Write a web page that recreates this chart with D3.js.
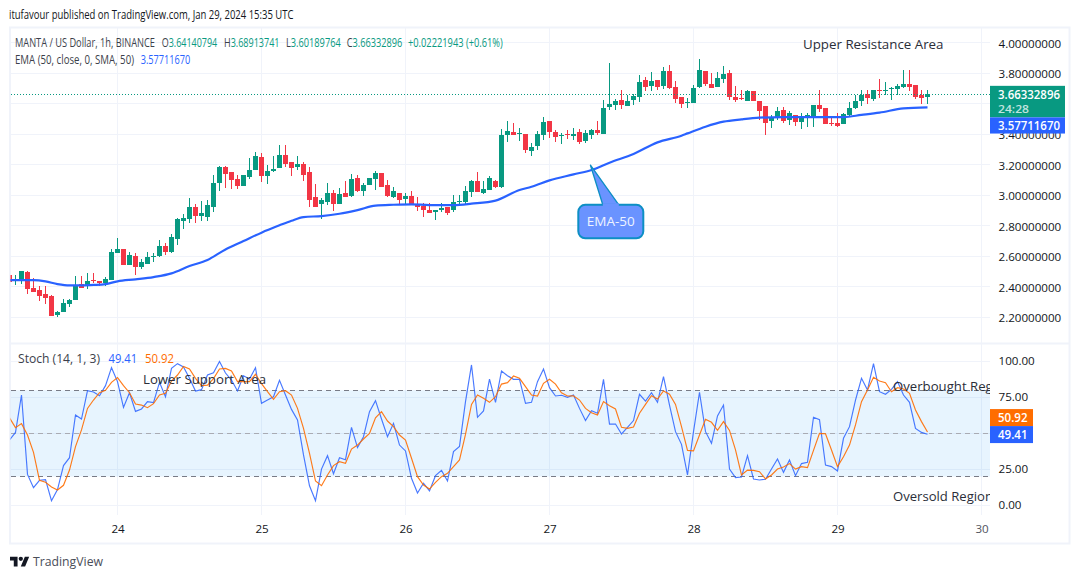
<!DOCTYPE html>
<html><head><meta charset="utf-8">
<script src="https://cdn.jsdelivr.net/npm/d3@7/dist/d3.min.js"></script>
<style>html,body{margin:0;padding:0;background:#fff}svg{display:block}text{font-family:"Open Sans","Noto Sans",sans-serif}</style>
</head><body><svg id="c" width="1080" height="579"></svg>
<script>
const firstHour=-18; // hours relative to Jan 24 00:00
const opens=[2.477,2.438,2.449,2.497,2.392,2.379,2.353,2.340,2.215,2.235,
2.287,2.313,2.418,2.405,2.444,2.438,2.425,2.444,2.622,2.648,
2.543,2.602,2.530,2.549,2.595,2.602,2.667,2.628,2.713,2.831,
2.844,2.923,2.864,2.858,2.923,3.080,3.185,3.153,3.107,3.061,
3.120,3.166,3.251,3.126,3.159,3.179,3.264,3.218,3.185,3.205,
3.153,2.989,2.943,2.956,3.015,2.943,3.015,2.995,3.113,3.028,
3.067,3.107,3.146,3.067,2.989,3.015,2.976,2.995,2.943,2.930,
2.903,2.890,2.903,2.923,2.903,2.956,2.956,3.021,3.094,3.015,
3.035,3.094,3.054,3.395,3.415,3.402,3.402,3.290,3.323,3.395,
3.487,3.415,3.389,3.402,3.389,3.415,3.356,3.395,3.428,3.402,
3.579,3.592,3.625,3.585,3.625,3.644,3.756,3.717,3.756,3.717,
3.815,3.710,3.645,3.605,3.605,3.710,3.815,3.730,3.710,3.763,
3.802,3.645,3.638,3.618,3.684,3.618,3.586,3.487,3.513,3.559,
3.494,3.527,3.481,3.513,3.513,3.592,3.572,3.474,3.474,3.468,
3.527,3.572,3.618,3.664,3.632,3.691,3.684,3.697,3.697,3.710,
3.730,3.723,3.658,3.6414];
const highs=[2.477,2.477,2.503,2.503,2.456,2.405,2.405,2.346,2.241,2.320,
2.320,2.471,2.471,2.490,2.490,2.438,2.464,2.648,2.720,2.648,
2.628,2.622,2.582,2.628,2.622,2.707,2.687,2.746,2.851,2.877,
2.982,2.943,2.962,2.969,3.133,3.192,3.192,3.153,3.133,3.133,
3.244,3.284,3.277,3.198,3.258,3.330,3.330,3.218,3.258,3.218,
3.185,3.074,2.982,3.080,3.035,3.048,3.094,3.139,3.133,3.080,
3.113,3.159,3.146,3.100,3.054,3.015,3.015,3.028,2.989,2.949,
2.949,2.903,2.949,2.923,3.002,3.002,3.061,3.100,3.153,3.094,
3.126,3.100,3.435,3.487,3.474,3.441,3.402,3.343,3.421,3.513,
3.487,3.428,3.408,3.428,3.441,3.435,3.428,3.435,3.487,3.625,
3.867,3.631,3.690,3.657,3.664,3.789,3.776,3.808,3.756,3.841,
3.854,3.750,3.645,3.638,3.723,3.894,3.815,3.802,3.809,3.848,
3.822,3.717,3.691,3.691,3.684,3.618,3.586,3.527,3.579,3.579,
3.553,3.527,3.540,3.540,3.592,3.691,3.572,3.520,3.540,3.540,
3.612,3.658,3.691,3.691,3.691,3.763,3.743,3.710,3.730,3.822,
3.822,3.723,3.691,3.6891];
const lows=[2.431,2.412,2.418,2.353,2.366,2.307,2.287,2.208,2.202,2.235,
2.267,2.313,2.392,2.385,2.425,2.405,2.405,2.444,2.622,2.543,
2.543,2.477,2.517,2.549,2.562,2.595,2.608,2.622,2.674,2.779,
2.818,2.818,2.831,2.831,2.890,3.028,3.048,3.041,3.041,3.061,
3.107,3.166,3.087,3.074,3.153,3.179,3.185,3.126,3.166,3.094,
2.923,2.923,2.844,2.936,2.897,2.943,2.989,2.989,3.021,2.995,
3.067,3.035,3.054,2.989,2.982,2.943,2.936,2.936,2.897,2.858,
2.884,2.838,2.890,2.871,2.890,2.930,2.943,2.989,3.021,3.008,
3.035,3.048,3.048,3.349,3.395,3.356,3.277,3.258,3.297,3.362,
3.376,3.349,3.336,3.369,3.362,3.336,3.343,3.369,3.395,3.402,
3.559,3.559,3.566,3.585,3.592,3.612,3.684,3.684,3.690,3.697,
3.697,3.605,3.572,3.572,3.605,3.704,3.717,3.704,3.710,3.736,
3.625,3.612,3.625,3.618,3.618,3.494,3.395,3.441,3.494,3.474,
3.461,3.454,3.435,3.448,3.448,3.546,3.468,3.454,3.448,3.468,
3.513,3.566,3.586,3.599,3.618,3.638,3.658,3.625,3.658,3.704,
3.684,3.632,3.599,3.6019];
const closes=[2.431,2.453,2.503,2.387,2.366,2.340,2.326,2.208,2.235,2.294,
2.313,2.412,2.392,2.438,2.438,2.425,2.451,2.628,2.648,2.543,
2.608,2.530,2.562,2.595,2.602,2.667,2.628,2.726,2.844,2.851,
2.923,2.864,2.884,2.936,3.080,3.185,3.139,3.100,3.061,3.133,
3.166,3.258,3.126,3.159,3.172,3.264,3.205,3.179,3.205,3.133,
2.969,2.923,2.969,3.015,2.943,3.008,2.989,3.107,3.028,3.067,
3.113,3.146,3.054,2.995,3.028,2.969,2.995,2.936,2.923,2.903,
2.884,2.903,2.917,2.884,2.956,2.962,3.028,3.094,3.021,3.041,
3.113,3.054,3.395,3.421,3.395,3.408,3.297,3.317,3.402,3.480,
3.415,3.382,3.395,3.395,3.402,3.349,3.408,3.428,3.408,3.572,
3.598,3.618,3.592,3.618,3.651,3.743,3.710,3.749,3.710,3.815,
3.703,3.632,3.599,3.612,3.704,3.822,3.730,3.704,3.769,3.795,
3.645,3.625,3.632,3.684,3.618,3.553,3.474,3.507,3.553,3.487,
3.540,3.481,3.520,3.527,3.592,3.566,3.468,3.468,3.454,3.533,
3.572,3.618,3.658,3.638,3.691,3.684,3.691,3.704,3.717,3.730,
3.710,3.645,3.638,3.6633];
const emaValues=[2.444,2.444,2.436,2.418,2.409,2.409,2.412,2.418,2.436,2.449,2.464,2.488,2.536,2.576,2.645,2.700,2.755,2.803,2.833,2.857,2.864,2.879,2.903,2.932,2.938,2.941,2.936,2.936,2.945,2.965,3.035,3.056,3.098,3.137,3.166,3.214,3.271,3.347,3.391,3.406,3.450,3.483,3.498,3.509,3.513,3.513,3.513,3.527,3.542,3.570,3.5771];
const emaHours=[-18,-14,-12,-10,-8,-6,-4,-2,0,3,6,9,12,15,18,21,24,27,29,31,34,37,40,43,46,49,52,56,59,63,67,69,72,76,79,82,86,90,94,95,98,101,104,107,111,116,121,124,127,131,135];
const stochK=[45.4,50.7,76.7,21.5,12.3,17.4,17.8,3.2,10.9,27.6,33.1,62.8,60.0,79.7,78.8,76.2,83.2,95.7,86.0,68.1,
78.3,65.3,67.0,72.1,71.4,85.5,75.5,95.2,98.5,96.2,88.3,79.5,80.4,90.6,92.2,100,92.0,87.1,79.5,90.1,
87.8,95.7,70.9,73.2,75.5,86.9,76.7,66.7,59.3,35.0,13.6,3.2,25.2,34.5,22.0,33.1,31.7,54.2,40.1,47.7,
65.1,72.8,60.0,47.7,57.0,41.9,37.8,18.8,8.6,15.3,10.0,20.6,24.3,16.9,37.3,41.0,72.1,97.6,61.2,65.6,
87.8,71.6,93.4,90.1,87.6,87.6,70.9,71.6,86.0,94.8,81.8,76.0,76.5,75.1,76.7,67.4,58.9,65.8,64.0,87.6,
56.5,56.5,49.6,54.2,58.9,77.2,72.5,78.3,71.6,89.5,69.7,51.2,42.4,21.1,51.2,78.6,51.2,43.1,62.1,69.7,
25.2,19.2,19.7,34.5,18.3,17.6,18.1,25.2,32.2,22.9,31.5,20.6,29.0,29.9,61.2,59.5,28.0,26.9,23.9,46.6,
54.7,73.2,88.3,80.2,98.5,79.0,77.2,80.6,86.0,76.7,71.6,53.5,50.7,49.41];
const stochD=[60.9,54.0,56.8,48.9,36.8,17.4,16.0,12.7,10.6,13.9,24.5,40.8,52.4,67.4,73.2,78.3,80.0,85.5,88.8,83.2,
78.3,70.4,69.7,67.9,70.7,76.7,77.9,86.4,90.6,96.6,94.8,88.3,83.2,83.6,88.1,94.8,95.2,93.4,86.0,86.0,
86.0,91.1,84.6,79.0,73.7,79.0,79.7,76.7,67.4,53.5,36.1,16.9,13.6,21.1,27.6,30.3,29.2,39.1,41.9,46.1,
50.0,60.9,65.1,58.6,54.7,48.9,45.4,32.7,19.9,14.1,11.3,16.0,19.9,22.2,26.9,31.5,49.3,70.2,76.7,74.4,
71.6,75.5,84.3,85.3,89.9,88.3,82.5,76.7,76.0,84.8,87.6,84.3,78.3,76.0,76.2,73.2,67.4,64.4,62.8,72.1,
69.3,67.0,54.2,53.5,54.4,64.0,70.2,76.2,73.9,79.5,77.2,70.2,54.7,38.2,37.8,48.9,59.8,57.7,52.1,58.2,
52.1,38.5,21.1,24.5,24.3,23.4,18.3,21.1,25.2,26.6,29.0,25.2,26.9,26.2,38.2,50.0,49.8,38.5,26.9,33.8,
41.9,55.9,72.1,80.2,89.0,86.4,85.3,79.0,81.8,80.9,77.9,66.3,58.2,50.92];
const priceTicks=[2.2,2.4,2.6,2.8,3.0,3.2,3.4,3.6,3.8,4.0];
const priceAxisTicks=[2.2,2.4,2.6,2.8,3.0,3.2,3.4,3.8,4.0];
const stochTicks=[0,25,50,75,100];
const stochAxisTicks=[0,25,75,100];
const dayLabels=["24","25","26","27","28","29","30"];
const dayHours=[0,24,48,72,96,120,144];
const ohlcNames=["O","H","L","C"];
const ohlcLabels=["3.64140794","3.68913741","3.60189764","3.66332896"];
const lastClose=3.66332896, lastEma=3.57711670, lastK=49.41, lastD=50.92;

const up="#089981",down="#f23645",blue="#2962ff",orange="#ff6d00",grid="#f0f3fa",ink="#131722";
const svg=d3.select("#c");
const L=10.5,R=990;
const x=d3.scaleLinear().domain([-18,144]).range([9.5,981.5]);
const yP=d3.scaleLinear().domain([2.2,4.0]).range([317.3,42.8]);
const yS=d3.scaleLinear().domain([0,100]).range([505.3,361.5]);
const hourAt=i=>firstHour+i;
const snap=v=>Math.floor(v)+.5;
const defs=svg.append("defs");
defs.append("clipPath").attr("id","plot").append("rect").attr("x",L).attr("y",28).attr("width",R-L).attr("height",487);
defs.append("clipPath").attr("id","pane1").append("rect").attr("x",L).attr("y",28).attr("width",R-L).attr("height",315);

// frame
svg.append("rect").attr("x",10).attr("y",27.5).attr("width",1059.5).attr("height",516).attr("fill","#fff").attr("stroke",grid).attr("stroke-width",2);

// grid
const gv=svg.append("g").attr("stroke",grid).attr("stroke-width",1).attr("shape-rendering","crispEdges");
gv.selectAll("line.v").data(dayHours).join("line").attr("class","v").attr("x1",d=>snap(x(d))).attr("x2",d=>snap(x(d))).attr("y1",28).attr("y2",515);
gv.selectAll("line.p").data(priceTicks).join("line").attr("class","p").attr("x1",L).attr("x2",R).attr("y1",d=>snap(yP(d))).attr("y2",d=>snap(yP(d)));
gv.selectAll("line.s").data(stochTicks).join("line").attr("class","s").attr("x1",L).attr("x2",R).attr("y1",d=>snap(yS(d))).attr("y2",d=>snap(yS(d)));
svg.append("rect").attr("x",10).attr("y",342.5).attr("width",1060).attr("height",2).attr("fill",grid);

// candles
const plot=svg.append("g").attr("clip-path","url(#pane1)");
const candle=plot.selectAll("g.c").data(opens).join("g").attr("class","c").attr("shape-rendering","crispEdges")
  .attr("fill",(o,i)=>closes[i]>=o?up:down);
candle.append("rect").attr("x",(o,i)=>Math.floor(x(hourAt(i)))).attr("width",1)
  .attr("y",(o,i)=>yP(highs[i])).attr("height",(o,i)=>Math.max(1,yP(lows[i])-yP(highs[i])));
candle.append("rect").attr("x",(o,i)=>Math.floor(x(hourAt(i)))-2).attr("width",5)
  .attr("y",(o,i)=>yP(Math.max(o,closes[i]))).attr("height",(o,i)=>Math.max(1,Math.abs(yP(o)-yP(closes[i]))));

// EMA
plot.append("path").datum(emaValues).attr("fill","none").attr("stroke",blue).attr("stroke-width",2.2)
  .attr("d",d3.line().x((d,i)=>x(emaHours[i])).y(d=>yP(d)).curve(d3.curveMonotoneX));

// price line
plot.append("line").attr("x1",L).attr("x2",R).attr("y1",snap(yP(lastClose))).attr("y2",snap(yP(lastClose)))
  .attr("stroke",up).attr("stroke-dasharray","1 2").attr("shape-rendering","crispEdges");

// callout
const tipX=x(78.8),tipY=yP(3.2),box=svg.append("g");
box.append("path").attr("d",`M${tipX},${tipY}L${tipX+12.5},${tipY+40}h16Z`).attr("fill","#6a93ff").attr("stroke","#0d8fc4").attr("stroke-width",1.3);
box.append("rect").attr("x",tipX-12).attr("y",tipY+40).attr("width",65).attr("height",33.5).attr("rx",7).attr("fill","#6a93ff").attr("stroke","#0d8fc4").attr("stroke-width",2);
box.append("path").attr("d",`M${tipX+12.5},${tipY+40}h16`).attr("stroke","#6a93ff").attr("stroke-width",3);
box.append("text").attr("x",tipX+20.5).attr("y",tipY+61.5).attr("text-anchor","middle").attr("fill","#eef3ff").style("font-size","13.5px").style("font-weight",500).text("EMA-50");

// stoch band and levels
const st=svg.append("g");
st.append("rect").attr("x",L).attr("width",R-L).attr("y",yS(80)).attr("height",yS(20)-yS(80)).attr("fill","#2196f3").attr("opacity",.105);
[[80,"#787b86"],[20,"#787b86"],[50,"#a9abb3"]].forEach(([v,c])=>{
  st.append("line").attr("x1",L).attr("x2",R).attr("y1",snap(yS(v))).attr("y2",snap(yS(v))).attr("stroke",c).attr("stroke-dasharray","5 4").attr("stroke-width",1).attr("shape-rendering","crispEdges");
});
const line=d3.line().x((d,i)=>x(hourAt(i))).y(d=>yS(d));
const sg=svg.append("g").attr("clip-path","url(#plot)");
sg.append("path").datum(stochK).attr("fill","none").attr("stroke",blue).attr("stroke-width",1.15).attr("opacity",.85).attr("d",line);
sg.append("path").datum(stochD).attr("fill","none").attr("stroke",orange).attr("stroke-width",1.15).attr("opacity",.9).attr("d",line);

// helper text
function label(x0,y0,str,o={}){
  const t=svg.append("text").attr("x",x0).attr("y",y0).attr("fill",o.fill||ink).style("font-size",(o.size||11)+"px").text(str);
  if(o.w){t.attr("textLength",o.w).attr("lengthAdjust","spacingAndGlyphs");}
  if(o.weight)t.style("font-weight",o.weight);
  if(o.op)t.attr("opacity",o.op);
  return t;
}
const tc="#3c3f4a";
label(9,19,"itufavour published on TradingView.com, Jan 29, 2024 15:35 UTC",{size:12,w:284.5,fill:"#131722"});
label(15,46.5,"MANTA / US Dollar, 1h, BINANCE",{size:12,w:140,fill:tc});
[161.7,224,286,346.7].forEach((x0,i)=>{
  const t=label(x0,46.5,"",{size:12,w:x0==286?54.7:55.5,fill:up});
  t.append("tspan").attr("fill",tc).text(ohlcNames[i]);
  t.append("tspan").text(ohlcLabels[i]);
});
label(408,46.5,"+0.02221943 (+0.61%)",{size:12,w:94.7,fill:up});
label(15,63.5,"EMA (50, close, 0, SMA, 50)",{size:12,w:119,fill:tc});
label(140.7,63.5,lastEma.toFixed(8),{size:12,w:49.5,fill:blue});
label(18,363,"Stoch (14, 1, 3)",{size:12,w:82,fill:tc});
label(108.6,363,lastK.toFixed(2),{size:12,w:28.5,fill:blue});
label(145,363,lastD.toFixed(2),{size:12,w:29,fill:orange});

// annotations
label(803,49,"Upper Resistance Area",{size:13,w:140.5,fill:"#2a2e39"});
label(143,384,"Lower Support Area",{size:13,w:123,fill:"#2a2e39"});
const ann=svg.append("g").attr("clip-path","url(#plot)");
ann.append("text").attr("x",893).attr("y",391).attr("fill","#2a2e39").style("font-size","13px").attr("textLength",119).attr("lengthAdjust","spacingAndGlyphs").text("Overbought Region");
ann.append("text").attr("x",893).attr("y",501).attr("fill","#2a2e39").style("font-size","13px").attr("textLength",100).attr("lengthAdjust","spacingAndGlyphs").text("Oversold Region");

// axes
const axStyle=g=>{g.select(".domain").remove();g.selectAll("text").attr("fill",ink).style("font-size","11.6px").style("font-family",'"Open Sans",sans-serif');};
svg.append("g").attr("transform",`translate(${R},0.6)`).call(d3.axisRight(yP).tickValues(priceAxisTicks).tickFormat(d=>d.toFixed(8)).tickSize(0).tickPadding(8.5)).call(axStyle);
svg.append("g").attr("transform",`translate(${R},-0.6)`).call(d3.axisRight(yS).tickValues(stochAxisTicks).tickFormat(d=>d.toFixed(2)).tickSize(0).tickPadding(8.5)).call(axStyle);
const timeAxis=svg.append("g").attr("transform","translate(0,516)").call(d3.axisBottom(x).tickValues(dayHours).tickFormat((d,i)=>dayLabels[i]).tickSize(0).tickPadding(9)).call(axStyle);
timeAxis.selectAll("text").filter(d=>d===120).style("font-weight",500);
timeAxis.selectAll("text").filter(d=>d===144).attr("fill","#50535e");

// last-value tags
const tag=(y0,h,w,c)=>svg.append("rect").attr("x",R).attr("y",y0).attr("width",w).attr("height",h).attr("fill",c);
const tagY=yP(lastClose);
tag(tagY-8.3,31.5,75,up); tag(tagY+23.2,16.2,75,blue);
label(R+8,tagY+5,lastClose.toFixed(8),{size:12,weight:600,fill:"#fff",w:62});
label(R+8,tagY+19,"24:28",{size:11.5,fill:"#fff",op:.75,w:31,weight:600});
label(R+8,tagY+35.5,lastEma.toFixed(8),{size:12,weight:600,fill:"#fff",w:62});
const d0=yS(lastD);
tag(d0-23,17,43,orange); tag(d0-6,17,43,blue);
label(R+8,d0-10.5,lastD.toFixed(2),{size:12,weight:600,fill:"#fff",w:29.5});
label(R+8,d0+6.5,lastK.toFixed(2),{size:12,weight:600,fill:"#fff",w:29.5});

// footer logo
svg.append("g").attr("transform","translate(10,554.5) scale(0.54)").call(g=>{
  g.append("path").attr("d","M14 22H7V11H0V4h14v18zM28 22h-8l7.5-18h8L28 22z").attr("fill","#131722");
  g.append("circle").attr("cx",20).attr("cy",8).attr("r",4).attr("fill","#131722");
});
label(33,566,"TradingView",{size:13.5,w:70,fill:"#4a4e59"});
</script></body></html>
